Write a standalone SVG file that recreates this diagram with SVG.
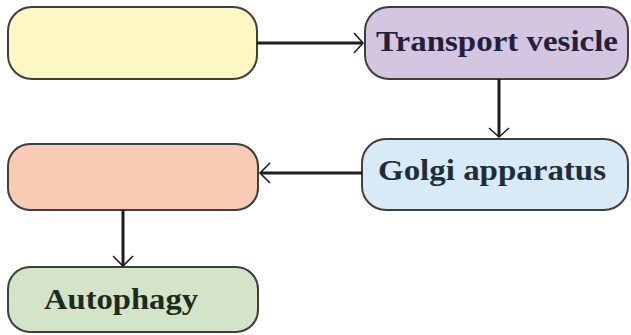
<svg xmlns="http://www.w3.org/2000/svg" width="631" height="335" viewBox="0 0 631 335">
<style>
.box{stroke:#3f3f3f;stroke-width:2}
.lbl{font-family:"Liberation Serif","DejaVu Serif",serif;font-weight:bold;font-size:29px}
.conn{stroke:#1e1e1e;stroke-width:3;fill:none}
.head{stroke:#1e1e1e;stroke-width:1.6;fill:none}
</style>
<rect width="631" height="335" fill="#ffffff"/>
<g id="node-yellow"><rect class="box" x="8" y="7" width="249" height="72" rx="24" fill="#fdf7c4"/></g>
<g id="node-transport"><rect class="box" x="365" y="7" width="263" height="72" rx="24" fill="#d4c5e1"/><text class="lbl" x="376" y="51" fill="#25203a" textLength="242" lengthAdjust="spacingAndGlyphs">Transport vesicle</text></g>
<g id="node-golgi"><rect class="box" x="362" y="139" width="266" height="71" rx="24" fill="#d7eaf5"/><text class="lbl" x="378" y="180" fill="#1f2c3a" textLength="228" lengthAdjust="spacingAndGlyphs">Golgi apparatus</text></g>
<g id="node-salmon"><rect class="box" x="8" y="144" width="250" height="66" rx="22" fill="#f9cbb4"/></g>
<g id="node-autophagy"><rect class="box" x="8" y="267" width="250" height="65" rx="22" fill="#d3e4c8"/><text class="lbl" x="44" y="309" fill="#1d2a1d" textLength="154" lengthAdjust="spacingAndGlyphs">Autophagy</text></g>
<g id="connectors">
<path class="conn" d="M257 43H362"/><path class="head" d="M354 33L363 43L354 53"/>
<path class="conn" d="M499 79V136"/><path class="head" d="M489 128L499 137L509 128"/>
<path class="conn" d="M362 173H261"/><path class="head" d="M270 163L260 173L270 183"/>
<path class="conn" d="M123 210V265"/><path class="head" d="M113 256L123 266L133 256"/>
</g>
</svg>
